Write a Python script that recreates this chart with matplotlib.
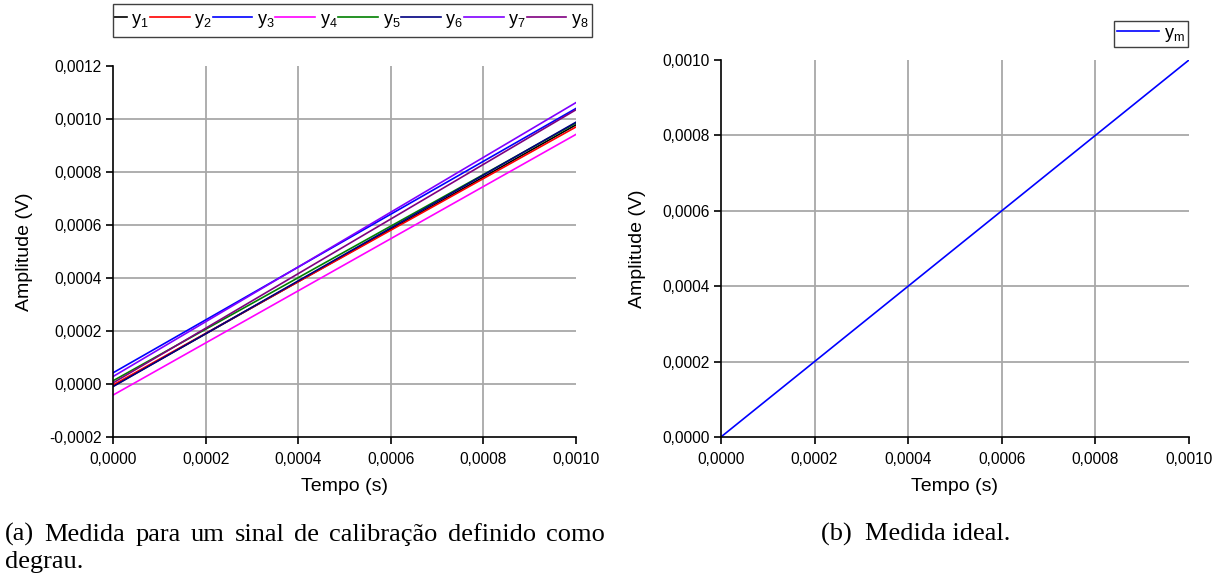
import matplotlib
matplotlib.use("Agg")
import matplotlib.pyplot as plt
from matplotlib.patches import Rectangle
from matplotlib.transforms import Bbox
from matplotlib.ticker import FuncFormatter, MultipleLocator

plt.rcParams['font.family'] = ['Liberation Sans', 'DejaVu Sans']
plt.rcParams['mathtext.fontset'] = 'custom'
plt.rcParams['mathtext.rm'] = 'Liberation Sans'
plt.rcParams['mathtext.it'] = 'Liberation Sans:italic'

# tempo (s) e amplitudes medidas (V)
t = [0.0, 0.001]
y1 = [-0.000008, 0.000978]
y2 = [-0.000004, 0.000970]
y3 = [0.000042, 0.001040]
y4 = [-0.000042, 0.000942]
y5 = [0.000012, 0.000985]
y6 = [-0.000010, 0.000988]
y7 = [0.000028, 0.001062]
y8 = [0.000004, 0.001035]
ym = [0.0, 0.001]

series = [y1, y2, y3, y4, y5, y6, y7, y8]
names = ['$\\mathregular{y_%d}$' % (i + 1) for i in range(8)]
colors = ['black', '#ff0000', '#0000ff', '#ff00ff', '#008000', '#000080', '#8000ff', '#800080']

caption_a = ['(a)  Medida para um sinal de calibração definido como', 'degrau.']
caption_b = '(b)  Medida ideal.'

fmt = FuncFormatter(lambda v, p: ('%.4f' % v).replace('.', ',').replace('-0,0000', '0,0000'))


def style_axes(ax):
    ax.spines['top'].set_visible(False)
    ax.spines['right'].set_visible(False)
    ax.spines['left'].set_linewidth(1.2)
    ax.spines['bottom'].set_linewidth(1.2)
    ax.xaxis.set_major_locator(MultipleLocator(0.0002))
    ax.yaxis.set_major_locator(MultipleLocator(0.0002))
    ax.xaxis.set_major_formatter(fmt)
    ax.yaxis.set_major_formatter(fmt)
    ax.tick_params(direction='out', length=5, width=1.2, labelsize=11.2)
    ax.tick_params(axis='x', pad=6)
    ax.tick_params(axis='y', pad=3)
    ax.set_xlabel('Tempo (s)', fontsize=14, labelpad=8)
    ax.set_ylabel('Amplitude (V)', fontsize=14, labelpad=12)
    # grid only at the inner ticks, the edges stay clear
    lo, hi = ax.get_xlim()
    for v in ax.get_xticks():
        if lo + 1e-9 < v < hi - 1e-9:
            ax.axvline(v, color='#a8a8a8', linewidth=1.3, zorder=0)
    lo, hi = ax.get_ylim()
    for v in ax.get_yticks():
        if lo + 1e-9 < v < hi - 1e-9:
            ax.axhline(v, color='#a8a8a8', linewidth=1.3, zorder=0)


fig = plt.figure(figsize=(12.24, 5.74), dpi=100)
ax1 = fig.add_axes([0.0923, 0.2387, 0.3783, 0.6463])
ax2 = fig.add_axes([0.589, 0.2387, 0.3824, 0.6568])

for y, c, n in zip(series, colors, names):
    ax1.plot(t, y, color=c, linewidth=1.2, label=n)
ax1.set_xlim(0, 0.001)
ax1.set_ylim(-0.0002, 0.0012)
style_axes(ax1)
leg1 = ax1.legend(loc='lower left', bbox_to_anchor=(80 / 1224, 1 - 37 / 574),
                  bbox_transform=fig.transFigure, ncol=8, fontsize=13,
                  handlelength=2.2, handletextpad=0.25, columnspacing=0.05,
                  borderpad=0.4, borderaxespad=0, frameon=False)

ax2.plot(t, ym, color='#0000ff', linewidth=1.2, label='$\\mathregular{y_m}$')
ax2.set_xlim(0, 0.001)
ax2.set_ylim(0, 0.001)
style_axes(ax2)
leg2 = ax2.legend(loc='upper right', bbox_to_anchor=(1188 / 1224, 1 - 21 / 574),
                  bbox_transform=fig.transFigure, fontsize=13,
                  handlelength=2.3, handletextpad=0.25, borderpad=0.2,
                  borderaxespad=0, fancybox=False, framealpha=1)
leg2.get_frame().set_edgecolor('#404040')
leg2.get_frame().set_linewidth(1.0)

fig.canvas.draw()
renderer = fig.canvas.get_renderer()

# the wide legend box starts at the plot's left edge; the first key is cut there
box = leg1.get_window_extent(renderer)
left = ax1.get_window_extent(renderer).x0
clip = Bbox([[left, 0], [fig.bbox.x1, fig.bbox.y1]])
for ln in leg1.get_lines():
    ln.set_clip_box(clip)
    ln.set_clip_on(True)
fig.patches.append(Rectangle((left / fig.bbox.width, box.y0 / fig.bbox.height),
                             (box.x1 - 4 - left) / fig.bbox.width, box.height / fig.bbox.height,
                             transform=fig.transFigure, fill=False,
                             edgecolor='#404040', linewidth=1.0, figure=fig))

# subfigure captions, first line of (a) justified to the column width
serif = dict(family=['Liberation Serif', 'DejaVu Serif'], fontsize=19, va='baseline')
words = caption_a[0].split()
x0, x1 = 5, 605
word_texts = [fig.text(0, 0, w, **serif) for w in words]
widths = [wt.get_window_extent(renderer).width for wt in word_texts]
gap = (x1 - x0 - sum(widths)) / (len(words) - 1)
x = x0
for wt, wd in zip(word_texts, widths):
    wt.set_position((x / 1224, 1 - 541 / 574))
    x += wd + gap
fig.text(5 / 1224, 1 - 568 / 574, caption_a[1], ha='left', **serif)
fig.text(916 / 1224, 1 - 541 / 574, caption_b, ha='center', **serif)

fig.savefig('out.png', dpi=100)
